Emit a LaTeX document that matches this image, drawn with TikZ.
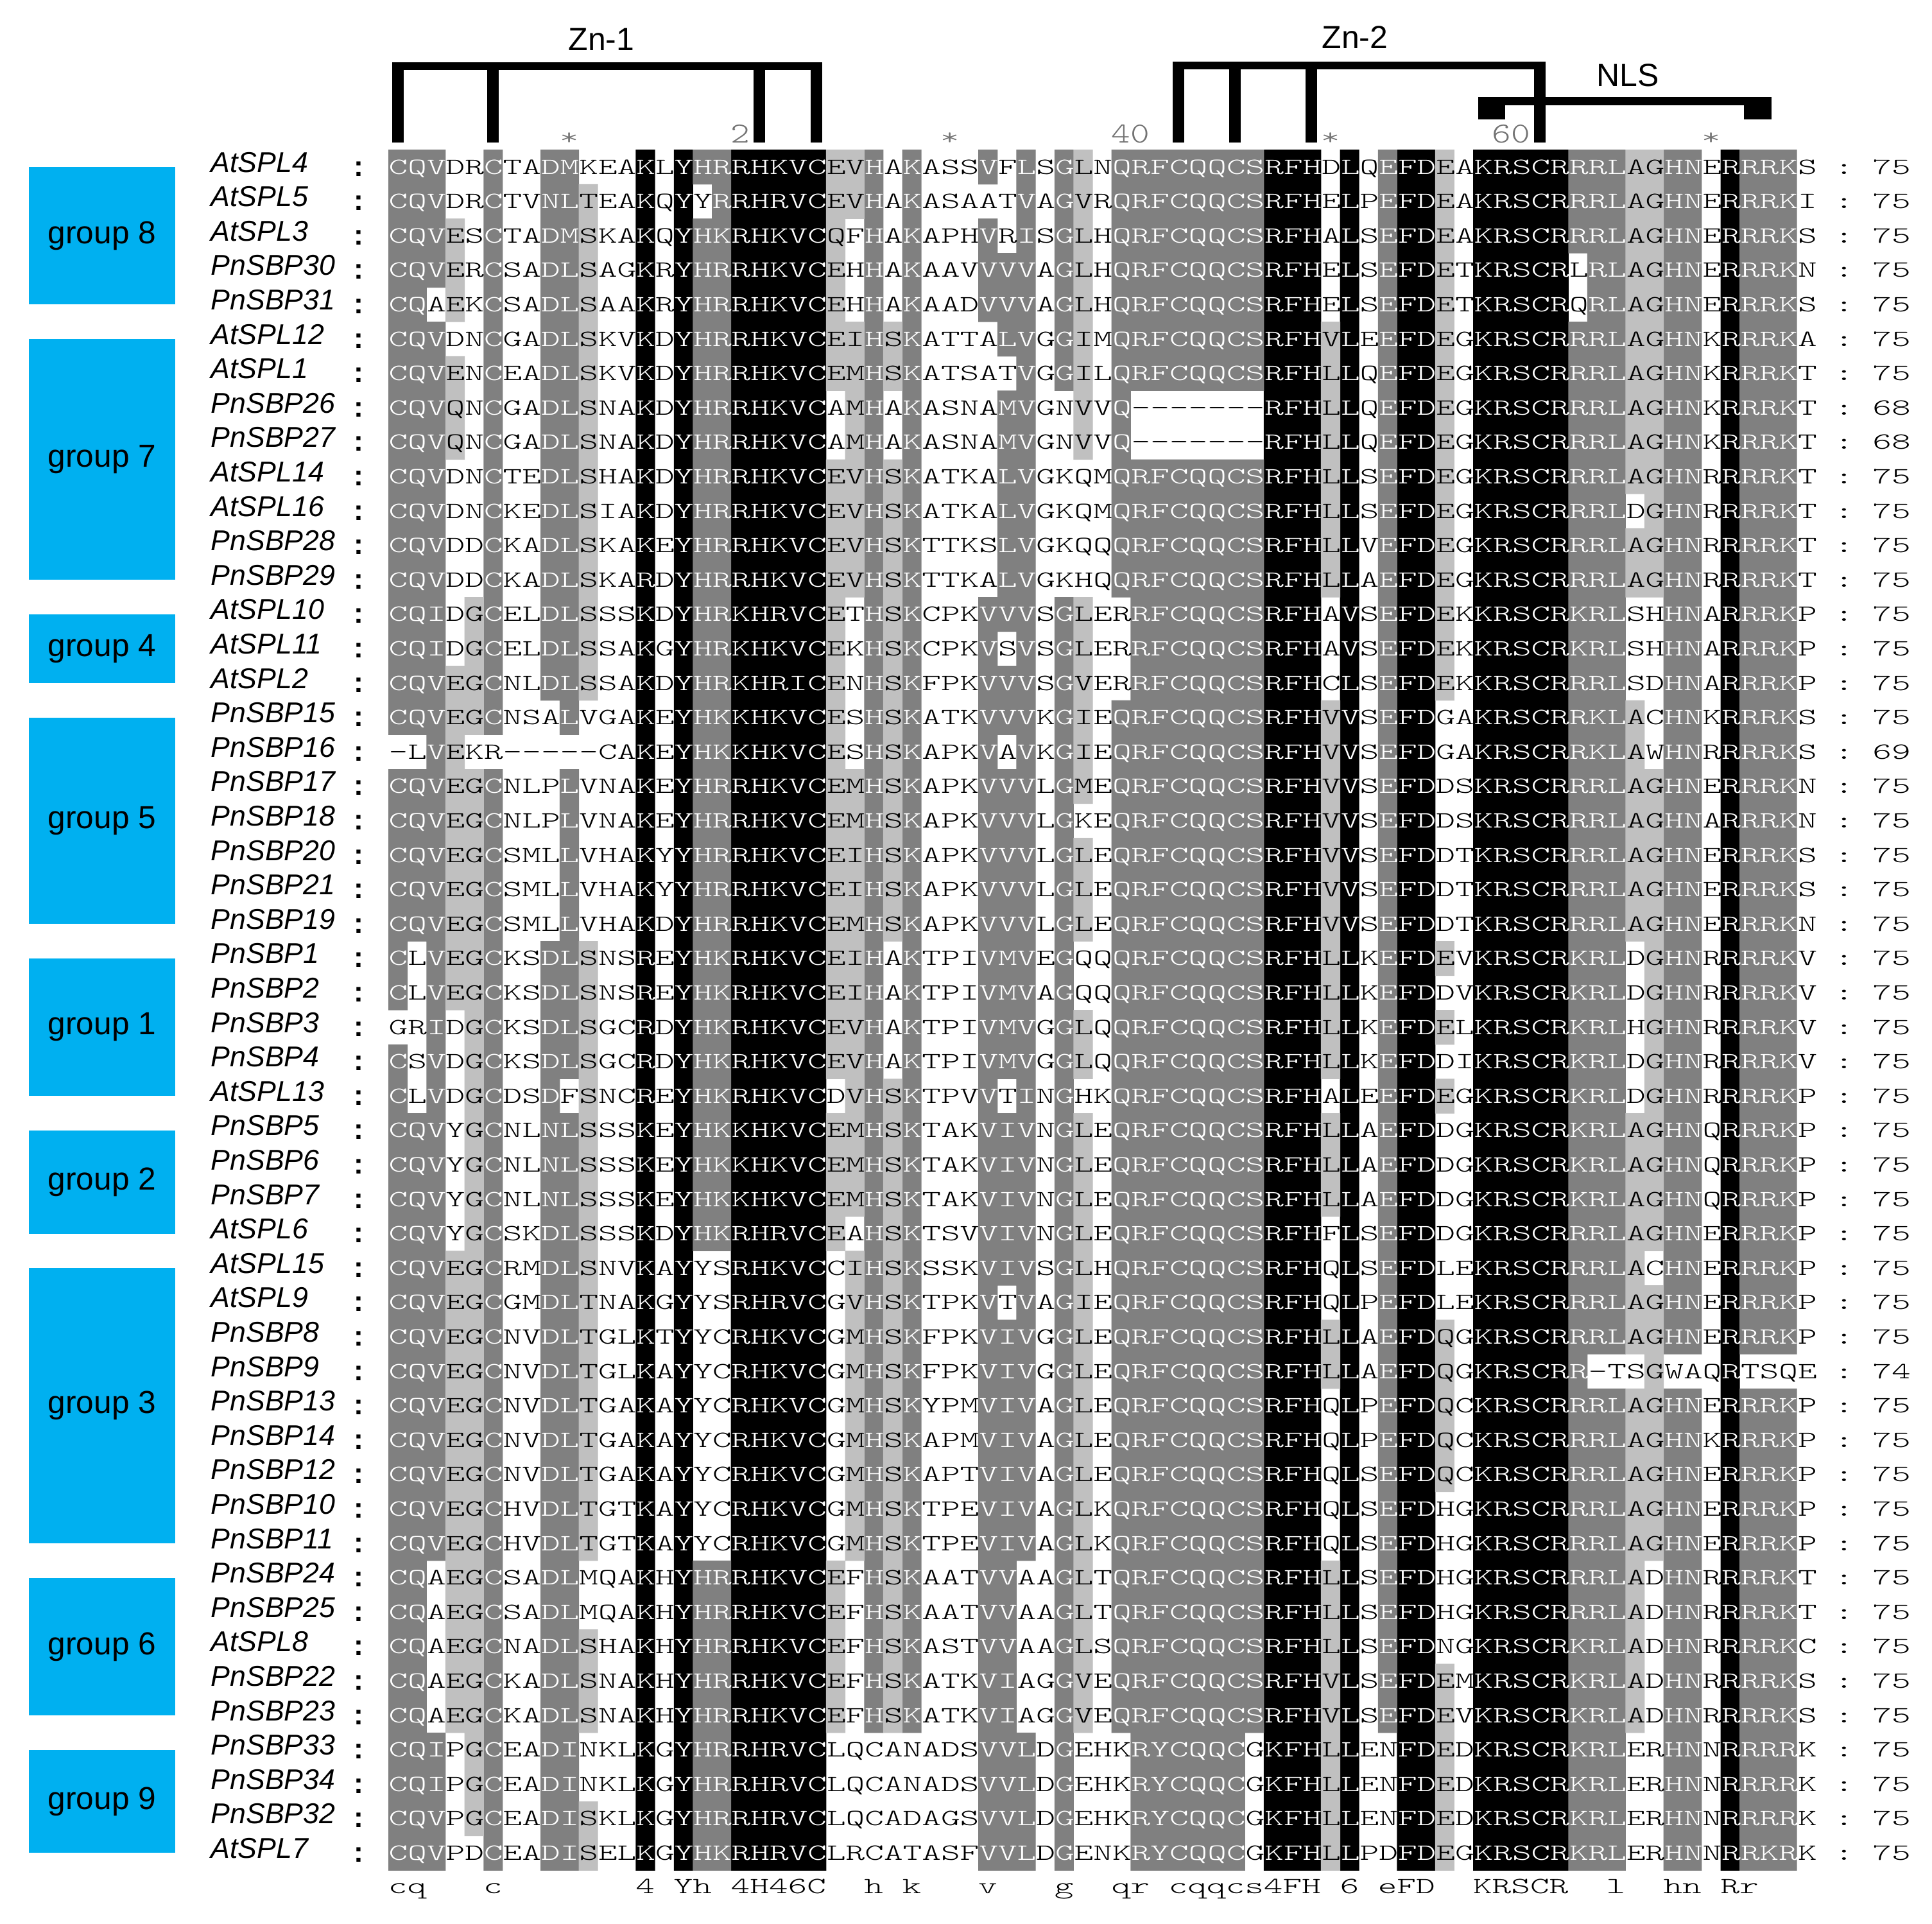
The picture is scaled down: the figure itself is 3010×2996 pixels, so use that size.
\documentclass[tikz,border=0pt]{standalone}
\usepackage{fontspec}
\setmainfont{Liberation Sans}
\usepackage{graphicx}
\usepackage{xcolor}
\usetikzlibrary{positioning}

\definecolor{shk}{RGB}{0,0,0}
\definecolor{shd}{RGB}{128,128,128}
\definecolor{shl}{RGB}{192,192,192}
\colorlet{txk}{white}
\colorlet{txd}{white}
\colorlet{txl}{black}
\colorlet{txw}{black}
\definecolor{groupblue}{RGB}{0,176,240}

\newcommand\seqfont{\fontsize{16.08pt}{18pt}\fontseries{l}\ttfamily\selectfont}
\newcommand\seqchar[1]{\scalebox{1}[0.64]{#1}}
\newcommand\rulerchar[1]{\scalebox{1}[0.8]{#1}}
\newcommand\alnc[2]{\makebox[0.2965cm]{\textcolor{tx#1}{#2}}}

% alignment store and conservation shading (similarity classes DN EQ ST KR FYW LIVM)
\ExplSyntaxOn
\int_new:N \g_aln_rows_int
\int_new:N \l_aln_max_int
\int_new:N \l_aln_start_int
\tl_new:N \l_aln_best_tl
\tl_new:N \l_aln_level_tl
\tl_new:N \l_aln_c_tl
\tl_new:N \l_aln_k_tl
\tl_new:N \l_aln_s_tl
\tl_new:N \l_aln_run_tl
\tl_new:N \l_aln_cur_tl
\tl_new:N \g_aln_cons_tl
\tl_const:Nn \c_aln_w_tl { w }
\prop_const_from_keyval:Nn \c_aln_class_prop
  { A=A, C=C, G=G, H=H, P=P, D=1, N=1, E=2, Q=2, S=3, T=3,
    K=4, R=4, F=5, Y=5, W=5, L=6, I=6, V=6, M=6 }
\clist_const:Nn \c_aln_classes_clist { A, C, G, H, P, 1, 2, 3, 4, 5, 6 }
\msg_new:nnn { aln } { length } { Row~#1~part~#2~has~length~#3. }

\NewDocumentCommand \alnrow { m m m m }
  {
    \int_gincr:N \g_aln_rows_int
    \int_compare:nNnF { \tl_count:n {#2} } = { 38 }
      { \msg_error:nnxxx { aln } { length } {#1} { 1 } { \tl_count:n {#2} } }
    \int_compare:nNnF { \tl_count:n {#3} } = { 37 }
      { \msg_error:nnxxx { aln } { length } {#1} { 2 } { \tl_count:n {#3} } }
    \tl_gclear_new:c { g_aln_name_ \int_use:N \g_aln_rows_int _tl }
    \tl_gclear_new:c { g_aln_seq_ \int_use:N \g_aln_rows_int _tl }
    \tl_gclear_new:c { g_aln_len_ \int_use:N \g_aln_rows_int _tl }
    \tl_gset:cn { g_aln_name_ \int_use:N \g_aln_rows_int _tl } {#1}
    \tl_gset:cn { g_aln_seq_ \int_use:N \g_aln_rows_int _tl } {#2#3}
    \tl_gset:cn { g_aln_len_ \int_use:N \g_aln_rows_int _tl } {#4}
  }
\NewDocumentCommand \alnconsensus { m } { \tl_gset:Nn \g_aln_cons_tl {#1} }

\cs_new_protected:Npn \aln_count:nn #1#2
  {
    \tl_set:Nx \l_aln_c_tl { \tl_item:cn { g_aln_seq_#1_tl } {#2} }
    \exp_args:NNV \prop_get:NnNT \c_aln_class_prop \l_aln_c_tl \l_aln_k_tl
      { \int_incr:c { l_aln_n_ \l_aln_k_tl _int } }
  }
\cs_new_protected:Npn \aln_shade:nn #1#2
  {
    \tl_set:Nn \l_aln_s_tl { w }
    \tl_set:Nx \l_aln_c_tl { \tl_item:cn { g_aln_seq_#1_tl } {#2} }
    \exp_args:NNV \prop_get:NnNT \c_aln_class_prop \l_aln_c_tl \l_aln_k_tl
      {
        \tl_if_eq:NNT \l_aln_k_tl \l_aln_best_tl
          { \tl_set_eq:NN \l_aln_s_tl \l_aln_level_tl }
      }
    \tl_gput_right:cx { g_aln_shade_#1_tl } { \l_aln_s_tl }
    \tl_gput_right:cx { g_aln_text_#1_tl }
      { \exp_not:N \alnc { \l_aln_s_tl } { \l_aln_c_tl } }
  }
\cs_new_protected:Npn \aln_column:n #1
  {
    \clist_map_inline:Nn \c_aln_classes_clist
      { \int_zero_new:c { l_aln_n_##1_int } }
    \int_step_inline:nn { \g_aln_rows_int }
      { \aln_count:nn {##1} {#1} }
    \int_zero:N \l_aln_max_int
    \tl_clear:N \l_aln_best_tl
    \clist_map_inline:Nn \c_aln_classes_clist
      {
        \int_compare:nNnT { \int_use:c { l_aln_n_##1_int } } > \l_aln_max_int
          {
            \int_set:Nn \l_aln_max_int { \int_use:c { l_aln_n_##1_int } }
            \tl_set:Nn \l_aln_best_tl {##1}
          }
      }
    \tl_set:Nn \l_aln_level_tl { w }
    \int_compare:nNnF { 100 * \l_aln_max_int } < { 60 * \g_aln_rows_int }
      {
        \int_compare:nNnTF { 100 * \l_aln_max_int } < { 80 * \g_aln_rows_int }
          { \tl_set:Nn \l_aln_level_tl { l } }
          {
            \int_compare:nNnTF \l_aln_max_int < \g_aln_rows_int
              { \tl_set:Nn \l_aln_level_tl { d } }
              { \tl_set:Nn \l_aln_level_tl { k } }
          }
      }
    \int_step_inline:nn { \g_aln_rows_int }
      { \aln_shade:nn {##1} {#1} }
  }
% one rectangle per run of equally shaded cells
\cs_new_protected:Npn \aln_flush:nnn #1#2#3
  {
    \tl_if_eq:NNF \l_aln_run_tl \c_aln_w_tl
      {
        \tl_gput_right:cx { g_aln_path_ \l_aln_run_tl _tl }
          {
            ( \fp_eval:n { 605 + (#2 - 1) * 29.65 } ,
              \fp_eval:n { 260 + (#1 - 1.5) * 53.6 } )
            ~rectangle~
            ( \fp_eval:n { 605 + (#3) * 29.65 + 0.5 } ,
              \fp_eval:n { 260 + (#1 - 0.5) * 53.6 + 0.5 } ) ~
          }
      }
  }
\cs_new_protected:Npn \aln_paths_row:n #1
  {
    \int_set:Nn \l_aln_start_int { 1 }
    \tl_set:Nx \l_aln_run_tl { \tl_item:cn { g_aln_shade_#1_tl } { 1 } }
    \int_step_inline:nnn { 2 } { 75 }
      {
        \tl_set:Nx \l_aln_cur_tl { \tl_item:cn { g_aln_shade_#1_tl } {##1} }
        \tl_if_eq:NNF \l_aln_cur_tl \l_aln_run_tl
          {
            \aln_flush:nnn {#1} { \int_use:N \l_aln_start_int } { ##1 - 1 }
            \int_set:Nn \l_aln_start_int {##1}
            \tl_set_eq:NN \l_aln_run_tl \l_aln_cur_tl
          }
      }
    \aln_flush:nnn {#1} { \int_use:N \l_aln_start_int } { 75 }
  }
\NewDocumentCommand \alnanalyse { }
  {
    \int_step_inline:nn { \g_aln_rows_int }
      {
        \tl_gclear_new:c { g_aln_shade_##1_tl }
        \tl_gclear_new:c { g_aln_text_##1_tl }
      }
    \tl_gclear_new:N \g_aln_path_k_tl
    \tl_gclear_new:N \g_aln_path_d_tl
    \tl_gclear_new:N \g_aln_path_l_tl
    \int_step_inline:nn { 75 } { \aln_column:n {##1} }
    \int_step_inline:nn { \g_aln_rows_int } { \aln_paths_row:n {##1} }
    \cs_gset_eq:NN \alnpathk \g_aln_path_k_tl
    \cs_gset_eq:NN \alnpathd \g_aln_path_d_tl
    \cs_gset_eq:NN \alnpathl \g_aln_path_l_tl
  }
\cs_new:Npn \alntext #1 { \tl_use:c { g_aln_text_#1_tl } }
\cs_new:Npn \alnname #1 { \tl_use:c { g_aln_name_#1_tl } }
\cs_new:Npn \alnlen #1 { \tl_use:c { g_aln_len_#1_tl } }
\cs_new:Npn \alncons #1 { \tl_item:Nn \g_aln_cons_tl {#1} }
\ExplSyntaxOff

% --- alignment: name, residues 1-38, residues 39-75, length ---
\alnrow{AtSPL4}{CQVDRCTADMKEAKLYHRRHKVCEVHAKASSVFLSGLN}{QRFCQQCSRFHDLQEFDEAKRSCRRRLAGHNERRRKS}{75}
\alnrow{AtSPL5}{CQVDRCTVNLTEAKQYYRRHRVCEVHAKASAATVAGVR}{QRFCQQCSRFHELPEFDEAKRSCRRRLAGHNERRRKI}{75}
\alnrow{AtSPL3}{CQVESCTADMSKAKQYHKRHKVCQFHAKAPHVRISGLH}{QRFCQQCSRFHALSEFDEAKRSCRRRLAGHNERRRKS}{75}
\alnrow{PnSBP30}{CQVERCSADLSAGKRYHRRHKVCEHHAKAAVVVVAGLH}{QRFCQQCSRFHELSEFDETKRSCRLRLAGHNERRRKN}{75}
\alnrow{PnSBP31}{CQAEKCSADLSAAKRYHRRHKVCEHHAKAADVVVAGLH}{QRFCQQCSRFHELSEFDETKRSCRQRLAGHNERRRKS}{75}
\alnrow{AtSPL12}{CQVDNCGADLSKVKDYHRRHKVCEIHSKATTALVGGIM}{QRFCQQCSRFHVLEEFDEGKRSCRRRLAGHNKRRRKA}{75}
\alnrow{AtSPL1}{CQVENCEADLSKVKDYHRRHKVCEMHSKATSATVGGIL}{QRFCQQCSRFHLLQEFDEGKRSCRRRLAGHNKRRRKT}{75}
\alnrow{PnSBP26}{CQVQNCGADLSNAKDYHRRHKVCAMHAKASNAMVGNVV}{Q-------RFHLLQEFDEGKRSCRRRLAGHNKRRRKT}{68}
\alnrow{PnSBP27}{CQVQNCGADLSNAKDYHRRHKVCAMHAKASNAMVGNVV}{Q-------RFHLLQEFDEGKRSCRRRLAGHNKRRRKT}{68}
\alnrow{AtSPL14}{CQVDNCTEDLSHAKDYHRRHKVCEVHSKATKALVGKQM}{QRFCQQCSRFHLLSEFDEGKRSCRRRLAGHNRRRRKT}{75}
\alnrow{AtSPL16}{CQVDNCKEDLSIAKDYHRRHKVCEVHSKATKALVGKQM}{QRFCQQCSRFHLLSEFDEGKRSCRRRLDGHNRRRRKT}{75}
\alnrow{PnSBP28}{CQVDDCKADLSKAKEYHRRHKVCEVHSKTTKSLVGKQQ}{QRFCQQCSRFHLLVEFDEGKRSCRRRLAGHNRRRRKT}{75}
\alnrow{PnSBP29}{CQVDDCKADLSKARDYHRRHKVCEVHSKTTKALVGKHQ}{QRFCQQCSRFHLLAEFDEGKRSCRRRLAGHNRRRRKT}{75}
\alnrow{AtSPL10}{CQIDGCELDLSSSKDYHRKHRVCETHSKCPKVVVSGLE}{RRFCQQCSRFHAVSEFDEKKRSCRKRLSHHNARRRKP}{75}
\alnrow{AtSPL11}{CQIDGCELDLSSAKGYHRKHKVCEKHSKCPKVSVSGLE}{RRFCQQCSRFHAVSEFDEKKRSCRKRLSHHNARRRKP}{75}
\alnrow{AtSPL2}{CQVEGCNLDLSSAKDYHRKHRICENHSKFPKVVVSGVE}{RRFCQQCSRFHCLSEFDEKKRSCRRRLSDHNARRRKP}{75}
\alnrow{PnSBP15}{CQVEGCNSALVGAKEYHKKHKVCESHSKATKVVVKGIE}{QRFCQQCSRFHVVSEFDGAKRSCRRKLACHNKRRRKS}{75}
\alnrow{PnSBP16}{-LVEKR-----CAKEYHKKHKVCESHSKAPKVAVKGIE}{QRFCQQCSRFHVVSEFDGAKRSCRRKLAWHNRRRRKS}{69}
\alnrow{PnSBP17}{CQVEGCNLPLVNAKEYHRRHKVCEMHSKAPKVVVLGME}{QRFCQQCSRFHVVSEFDDSKRSCRRRLAGHNERRRKN}{75}
\alnrow{PnSBP18}{CQVEGCNLPLVNAKEYHRRHKVCEMHSKAPKVVVLGKE}{QRFCQQCSRFHVVSEFDDSKRSCRRRLAGHNARRRKN}{75}
\alnrow{PnSBP20}{CQVEGCSMLLVHAKYYHRRHKVCEIHSKAPKVVVLGLE}{QRFCQQCSRFHVVSEFDDTKRSCRRRLAGHNERRRKS}{75}
\alnrow{PnSBP21}{CQVEGCSMLLVHAKYYHRRHKVCEIHSKAPKVVVLGLE}{QRFCQQCSRFHVVSEFDDTKRSCRRRLAGHNERRRKS}{75}
\alnrow{PnSBP19}{CQVEGCSMLLVHAKDYHRRHKVCEMHSKAPKVVVLGLE}{QRFCQQCSRFHVVSEFDDTKRSCRRRLAGHNERRRKN}{75}
\alnrow{PnSBP1}{CLVEGCKSDLSNSREYHKRHKVCEIHAKTPIVMVEGQQ}{QRFCQQCSRFHLLKEFDEVKRSCRKRLDGHNRRRRKV}{75}
\alnrow{PnSBP2}{CLVEGCKSDLSNSREYHKRHKVCEIHAKTPIVMVAGQQ}{QRFCQQCSRFHLLKEFDDVKRSCRKRLDGHNRRRRKV}{75}
\alnrow{PnSBP3}{GRIDGCKSDLSGCRDYHKRHKVCEVHAKTPIVMVGGLQ}{QRFCQQCSRFHLLKEFDELKRSCRKRLHGHNRRRRKV}{75}
\alnrow{PnSBP4}{CSVDGCKSDLSGCRDYHKRHKVCEVHAKTPIVMVGGLQ}{QRFCQQCSRFHLLKEFDDIKRSCRKRLDGHNRRRRKV}{75}
\alnrow{AtSPL13}{CLVDGCDSDFSNCREYHKRHKVCDVHSKTPVVTINGHK}{QRFCQQCSRFHALEEFDEGKRSCRKRLDGHNRRRRKP}{75}
\alnrow{PnSBP5}{CQVYGCNLNLSSSKEYHKKHKVCEMHSKTAKVIVNGLE}{QRFCQQCSRFHLLAEFDDGKRSCRKRLAGHNQRRRKP}{75}
\alnrow{PnSBP6}{CQVYGCNLNLSSSKEYHKKHKVCEMHSKTAKVIVNGLE}{QRFCQQCSRFHLLAEFDDGKRSCRKRLAGHNQRRRKP}{75}
\alnrow{PnSBP7}{CQVYGCNLNLSSSKEYHKKHKVCEMHSKTAKVIVNGLE}{QRFCQQCSRFHLLAEFDDGKRSCRKRLAGHNQRRRKP}{75}
\alnrow{AtSPL6}{CQVYGCSKDLSSSKDYHKRHRVCEAHSKTSVVIVNGLE}{QRFCQQCSRFHFLSEFDDGKRSCRRRLAGHNERRRKP}{75}
\alnrow{AtSPL15}{CQVEGCRMDLSNVKAYYSRHKVCCIHSKSSKVIVSGLH}{QRFCQQCSRFHQLSEFDLEKRSCRRRLACHNERRRKP}{75}
\alnrow{AtSPL9}{CQVEGCGMDLTNAKGYYSRHRVCGVHSKTPKVTVAGIE}{QRFCQQCSRFHQLPEFDLEKRSCRRRLAGHNERRRKP}{75}
\alnrow{PnSBP8}{CQVEGCNVDLTGLKTYYCRHKVCGMHSKFPKVIVGGLE}{QRFCQQCSRFHLLAEFDQGKRSCRRRLAGHNERRRKP}{75}
\alnrow{PnSBP9}{CQVEGCNVDLTGLKAYYCRHKVCGMHSKFPKVIVGGLE}{QRFCQQCSRFHLLAEFDQGKRSCRR-TSGWAQRTSQE}{74}
\alnrow{PnSBP13}{CQVEGCNVDLTGAKAYYCRHKVCGMHSKYPMVIVAGLE}{QRFCQQCSRFHQLPEFDQCKRSCRRRLAGHNERRRKP}{75}
\alnrow{PnSBP14}{CQVEGCNVDLTGAKAYYCRHKVCGMHSKAPMVIVAGLE}{QRFCQQCSRFHQLPEFDQCKRSCRRRLAGHNKRRRKP}{75}
\alnrow{PnSBP12}{CQVEGCNVDLTGAKAYYCRHKVCGMHSKAPTVIVAGLE}{QRFCQQCSRFHQLSEFDQCKRSCRRRLAGHNERRRKP}{75}
\alnrow{PnSBP10}{CQVEGCHVDLTGTKAYYCRHKVCGMHSKTPEVIVAGLK}{QRFCQQCSRFHQLSEFDHGKRSCRRRLAGHNERRRKP}{75}
\alnrow{PnSBP11}{CQVEGCHVDLTGTKAYYCRHKVCGMHSKTPEVIVAGLK}{QRFCQQCSRFHQLSEFDHGKRSCRRRLAGHNERRRKP}{75}
\alnrow{PnSBP24}{CQAEGCSADLMQAKHYHRRHKVCEFHSKAATVVAAGLT}{QRFCQQCSRFHLLSEFDHGKRSCRRRLADHNRRRRKT}{75}
\alnrow{PnSBP25}{CQAEGCSADLMQAKHYHRRHKVCEFHSKAATVVAAGLT}{QRFCQQCSRFHLLSEFDHGKRSCRRRLADHNRRRRKT}{75}
\alnrow{AtSPL8}{CQAEGCNADLSHAKHYHRRHKVCEFHSKASTVVAAGLS}{QRFCQQCSRFHLLSEFDNGKRSCRKRLADHNRRRRKC}{75}
\alnrow{PnSBP22}{CQAEGCKADLSNAKHYHRRHKVCEFHSKATKVIAGGVE}{QRFCQQCSRFHVLSEFDEMKRSCRKRLADHNRRRRKS}{75}
\alnrow{PnSBP23}{CQAEGCKADLSNAKHYHRRHKVCEFHSKATKVIAGGVE}{QRFCQQCSRFHVLSEFDEVKRSCRKRLADHNRRRRKS}{75}
\alnrow{PnSBP33}{CQIPGCEADINKLKGYHRRHRVCLQCANADSVVLDGEH}{KRYCQQCGKFHLLENFDEDKRSCRKRLERHNNRRRRK}{75}
\alnrow{PnSBP34}{CQIPGCEADINKLKGYHRRHRVCLQCANADSVVLDGEH}{KRYCQQCGKFHLLENFDEDKRSCRKRLERHNNRRRRK}{75}
\alnrow{PnSBP32}{CQVPGCEADISKLKGYHRRHRVCLQCADAGSVVLDGEH}{KRYCQQCGKFHLLENFDEDKRSCRKRLERHNNRRRRK}{75}
\alnrow{AtSPL7}{CQVPDCEADISELKGYHKRHRVCLRCATASFVVLDGEN}{KRYCQQCGKFHLLPDFDEGKRSCRKRLERHNNRRKRK}{75}
\alnconsensus{cq...c.......4.Yh.4H46C..h.k...v...g..qr.cqqcs4FH.6.eFD..KRSCR..l..hn.Rr...}
\alnanalyse

\begin{document}
\begin{tikzpicture}[
  x=0.01cm, y=-0.01cm,
  seqchr/.style={inner sep=0pt, anchor=base, font=\seqfont},
  seqrow/.style={inner sep=0pt, anchor=base west, font=\seqfont},
  seqname/.style={inner sep=0pt, anchor=base west, font=\fontsize{12.7pt}{15pt}\selectfont\itshape},
  grplabel/.style={inner sep=0pt, font=\fontsize{14.1pt}{17pt}\selectfont},
  motif/.style={inner sep=0pt, font=\fontsize{14.2pt}{17pt}\selectfont},
]
\def\xa{605}
\def\cw{29.65}
\def\ya{260}
\def\rh{53.6}

% --- canvas ---
\fill[white] (0,0) rectangle (3010,2996);
\useasboundingbox (0,0) rectangle (3010,2996);

% --- shading of conserved residues (100%, 80%, 60%) ---
\fill[shk] \alnpathk;
\fill[shd] \alnpathd;
\fill[shl] \alnpathl;

% --- residues ---
\foreach \i in {1,...,50}
  \node[seqrow] (row\i) at (\xa,{\ya+(\i-1)*\rh+11}) {\seqchar{\alntext{\i}}};

% --- names, colons and lengths ---
\foreach \i in {1,...,50} {
  \node[seqname] (n\i) at (328,{\ya+(\i-1)*\rh+8}) {\alnname{\i}};
  \node[inner sep=0pt, anchor=base, font=\fontsize{12.7pt}{15pt}\selectfont\bfseries] (cl\i) at (559,{\ya+(\i-1)*\rh+14}) {:};
  \node[seqchr] (cr\i) at (2873,{\ya+(\i-1)*\rh+11}) {\seqchar{:}};
  \node[seqchr] (len\i) at (2947,{\ya+(\i-1)*\rh+11}) {\seqchar{\alnlen{\i}}};
}

% --- group boxes ---
\foreach \g/\ga/\gb in {8/1/5, 7/6/13, 4/14/16, 5/17/23, 1/24/28, 2/29/32, 3/33/41, 6/42/46, 9/47/50} {
  \fill[groupblue] (45,{\ya+(\ga-1)*\rh}) rectangle (273,{\ya+(\gb-1)*\rh});
  \node[grplabel] (grp\g) at (159,{\ya+(\ga+\gb-2)*\rh/2}) {group \g};
}

% --- consensus line ---
\foreach \j in {1,...,75} {
  \edef\ch{\alncons{\j}}
  \if .\ch\relax\else
    \node[seqchr] (cons\j) at ({\xa+(\j-0.5)*\cw},2949) {\seqchar{\ch}};
  \fi
}

% --- ruler ---
\foreach \j in {10, 30, 50, 70}
  \node[seqchr, text=black!55] (star\j) at ({\xa+(\j-0.5)*\cw},225) {\seqchar{*}};
\foreach \j/\ch in {19/2, 39/4, 40/0, 59/6, 60/0}
  \node[seqchr, text=black!55] (tick\j) at ({\xa+(\j-0.5)*\cw},222) {\rulerchar{\ch}};

% --- Zn-1 ---
\fill ({\xa+0.5*\cw-9},97) rectangle ({\xa+22.5*\cw+9},109);
\foreach \j in {1, 6, 20, 23}
  \fill ({\xa+(\j-0.5)*\cw-9},97) rectangle ++(18,125);
\node[motif] (zn1) at (937,61) {Zn-1};

% --- NLS ---
\fill (2303,151) rectangle (2760,164);
\fill (2303,151) rectangle (2345,186);
\fill (2717,151) rectangle (2760,186);
\node[motif] (nls) at (2536,117) {NLS};

% --- Zn-2 ---
\fill ({\xa+41.5*\cw-9},96) rectangle ({\xa+60.5*\cw+9},108);
\foreach \j in {42, 45, 49, 61}
  \fill ({\xa+(\j-0.5)*\cw-9},96) rectangle ++(18,126);
\node[motif] (zn2) at (2111,58) {Zn-2};

\end{tikzpicture}
\end{document}
